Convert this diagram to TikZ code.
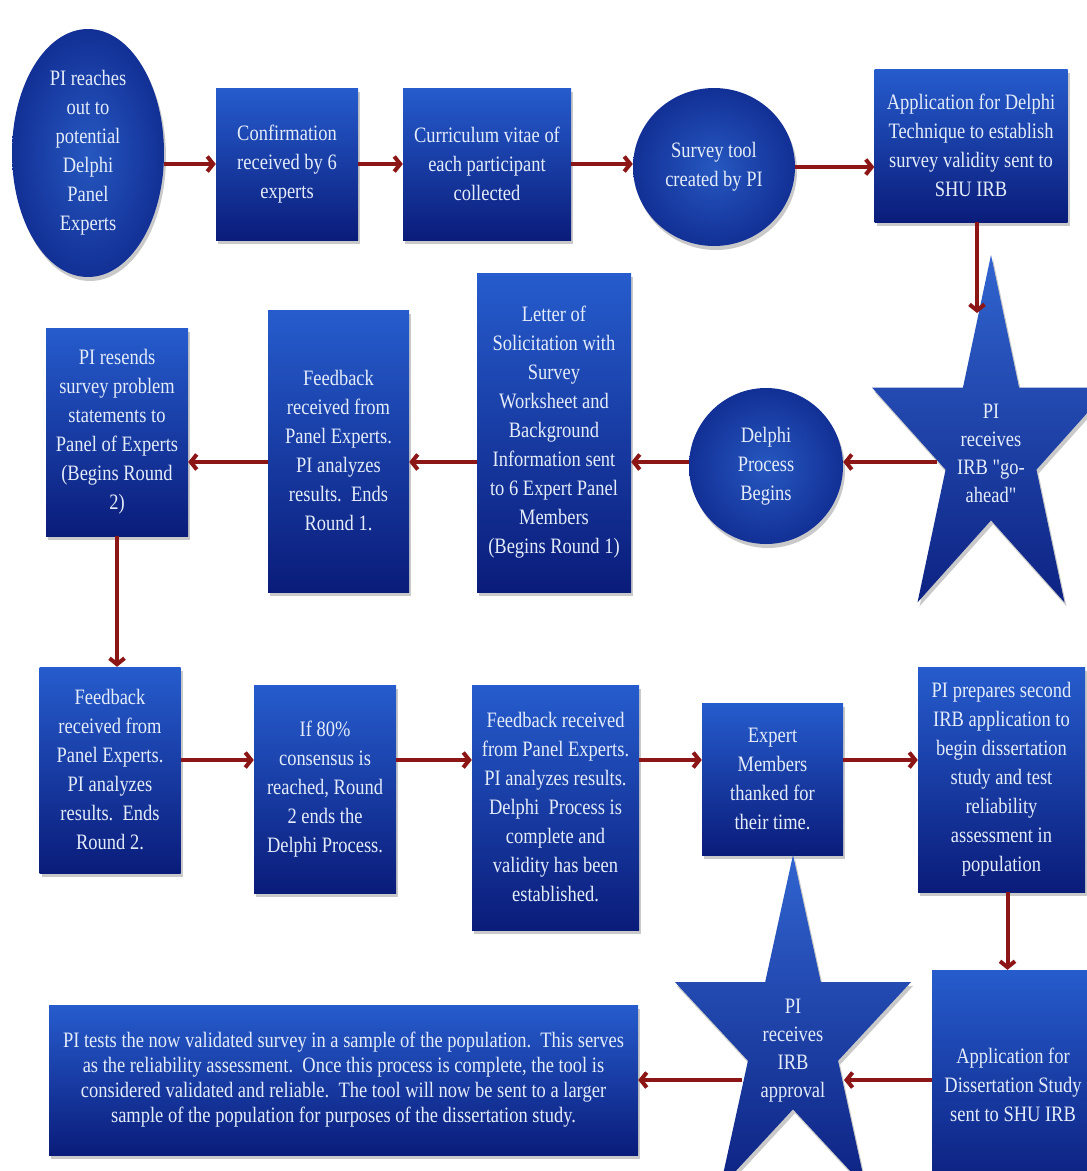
\documentclass[tikz,border=0pt]{standalone}
\usepackage{fontspec}
\setmainfont{Liberation Serif}[FakeStretch=0.84]
\newfontfamily\plainq{Liberation Serif}[FakeStretch=0.84]
\usetikzlibrary{arrows.meta,shadows,shapes.geometric,calc}
\definecolor{boxtop}{RGB}{38,92,205}
\definecolor{boxbot}{RGB}{10,28,122}
\definecolor{ellin}{RGB}{38,88,192}
\definecolor{ellout}{RGB}{18,48,150}
\definecolor{txt}{RGB}{228,236,250}
\definecolor{arr}{RGB}{140,22,22}
\tikzset{
  boxshade/.style={top color=boxtop, bottom color=boxbot, draw=none,
    drop shadow={shadow xshift=2pt, shadow yshift=-4pt, opacity=0.35, fill=black!60}},
  pbox/.style={boxshade, rectangle, inner sep=0pt, align=center, text=txt,
    font=\fontsize{22}{29}\selectfont},
  pell/.style={ellipse, inner sep=0pt, align=center, text=txt, draw=none,
    inner color=ellin, outer color=ellout,
    drop shadow={shadow xshift=2pt, shadow yshift=-4pt, opacity=0.35, fill=black!60},
    font=\fontsize{22}{29}\selectfont},
  startext/.style={inner sep=0pt, align=center, text=txt, font=\fontsize{22}{28}\selectfont},
  starfill/.style={top color=boxtop!95, bottom color=boxbot!90!boxtop, draw=none,
    drop shadow={shadow xshift=2pt, shadow yshift=-4pt, opacity=0.35, fill=black!60}},
  conn/.style={draw=arr, line width=4pt, -{Straight Barb[length=6pt,width=15pt]}}
}
\newcommand{\starpath}[4]{% cx, cy, rx, ry  (y downward)
  \path[starfill] ({#1+#3*cos(90)},{#2-#4*sin(90)})
  \foreach \k in {1,...,9}{
    -- ({#1+(mod(\k,2)==1 ? 0.382 : 1)*#3*cos(90+36*\k)},{#2-(mod(\k,2)==1 ? 0.382 : 1)*#4*sin(90+36*\k)})
  } -- cycle;}
\begin{document}
\begin{tikzpicture}[x=1pt,y=-1pt]
\clip (0,0) rectangle (1087,1171);
\fill[white] (0,0) rectangle (1087,1171);

% ---------- row 1 ----------
\node[pell, minimum width=152pt, minimum height=248pt] (e1) at (88,153)
  {PI reaches\\out to\\potential\\Delphi\\Panel\\Experts};
\node[pbox, minimum width=142pt, minimum height=152pt] (conf) at (287,164)
  {Confirmation\\received by 6\\experts};
\node[pbox, minimum width=168pt, minimum height=152pt] (cv) at (487,164)
  {Curriculum vitae of\\each participant\\collected};
\node[pell, minimum width=162pt, minimum height=158pt] (survey) at (714,167)
  {Survey tool\\created by PI};
\node[pbox, minimum width=193pt, minimum height=153pt] (app1) at (971,145.5)
  {Application for Delphi\\Technique to establish\\survey validity sent to\\SHU IRB};

% ---------- row 2 ----------
\starpath{991}{447}{125}{192}
\node[startext] (star1) at (991,453) {PI\\receives\\IRB {\plainq"}go-\\ahead{\plainq"}};
\coordinate (s1n) at (977,313);
\coordinate (s1w) at (937,462);
\node[pell, minimum width=154pt, minimum height=156pt] (delphi) at (766,466)
  {Delphi\\Process\\Begins};
\node[pbox, minimum width=154pt, minimum height=319pt] (letter) at (554,432.5)
  {Letter of\\Solicitation with\\Survey\\Worksheet and\\Background\\Information sent\\to 6 Expert Panel\\Members\\(Begins Round 1)};
\node[pbox, minimum width=141pt, minimum height=282pt] (fb1) at (338.5,451)
  {Feedback\\received from\\Panel Experts.\\PI analyzes\\results.\ \ Ends\\Round 1.};
\node[pbox, minimum width=142pt, minimum height=208pt] (resend) at (117,432)
  {PI resends\\survey problem\\statements to\\Panel of Experts\\(Begins Round\\2)};

% ---------- row 3 ----------
\node[pbox, minimum width=141pt, minimum height=206pt] (fb2) at (110,770)
  {Feedback\\received from\\Panel Experts.\\PI analyzes\\results.\ \ Ends\\Round 2.};
\node[pbox, minimum width=142pt, minimum height=208pt] (if80) at (325,789)
  {If 80\%\\consensus is\\reached, Round\\2 ends the\\Delphi Process.};
\node[pbox, minimum width=167pt, minimum height=245pt] (fbc) at (555.5,807.5)
  {Feedback received\\from Panel Experts.\\PI analyzes results.\\Delphi\ \ Process is\\complete and\\validity has been\\established.};
\node[pbox, minimum width=141pt, minimum height=152pt] (expert) at (772.5,779)
  {Expert\\Members\\thanked for\\their time.};
\node[pbox, minimum width=167pt, minimum height=225pt] (prep2) at (1001.5,779.5)
  {PI prepares second\\IRB application to\\begin dissertation\\study and test\\reliability\\assessment in\\population};
\coordinate (r3) at (0,760);

% ---------- row 4 ----------
\node[pbox, minimum width=162pt, minimum height=230pt] (appd) at (1013,1085)
  {Application for\\Dissertation Study\\sent to SHU IRB};
\starpath{793}{1039}{124}{184}
\node[startext] (star2) at (793,1051) {PI\\receives\\IRB\\approval};
\coordinate (s2e) at (844,1080);
\coordinate (s2w) at (742,1080);
\node[pbox, minimum width=589pt, minimum height=150pt, font=\fontsize{22}{25}\selectfont] (wide) at (343.5,1080)
  {PI tests the now validated survey in a sample of the population.\ \ This serves\\
   as the reliability assessment.\ \ Once this process is complete, the tool is\\
   considered validated and reliable.\ \ The tool will now be sent to a larger\\
   sample of the population for purposes of the dissertation study.};

% ---------- connectors ----------
\draw[conn] (e1.east |- conf.west) -- (conf.west);
\draw[conn] (conf.east) -- (cv.west);
\draw[conn] (cv.east) -- (cv.east -| survey.west);
\draw[conn] (survey.east) -- (survey.east -| app1.west);
\draw[conn] (app1.south -| s1n) -- (s1n);
\draw[conn] (s1w) -- (s1w -| delphi.east);
\draw[conn] (delphi.west |- s1w) -- (letter.east |- s1w);
\draw[conn] (letter.west |- s1w) -- (fb1.east |- s1w);
\draw[conn] (fb1.west |- s1w) -- (resend.east |- s1w);
\draw[conn] (resend.south) -- (resend.south |- fb2.north);
\draw[conn] (fb2.east |- r3) -- (if80.west |- r3);
\draw[conn] (if80.east |- r3) -- (fbc.west |- r3);
\draw[conn] (fbc.east |- r3) -- (expert.west |- r3);
\draw[conn] (expert.east |- r3) -- (prep2.west |- r3);
\draw[conn] ([xshift=6pt]prep2.south) -- ([xshift=6pt]prep2.south |- appd.north);
\draw[conn] (appd.west |- s2e) -- (s2e);
\draw[conn] (s2w) -- (wide.east |- s2w);
\end{tikzpicture}
\end{document}
